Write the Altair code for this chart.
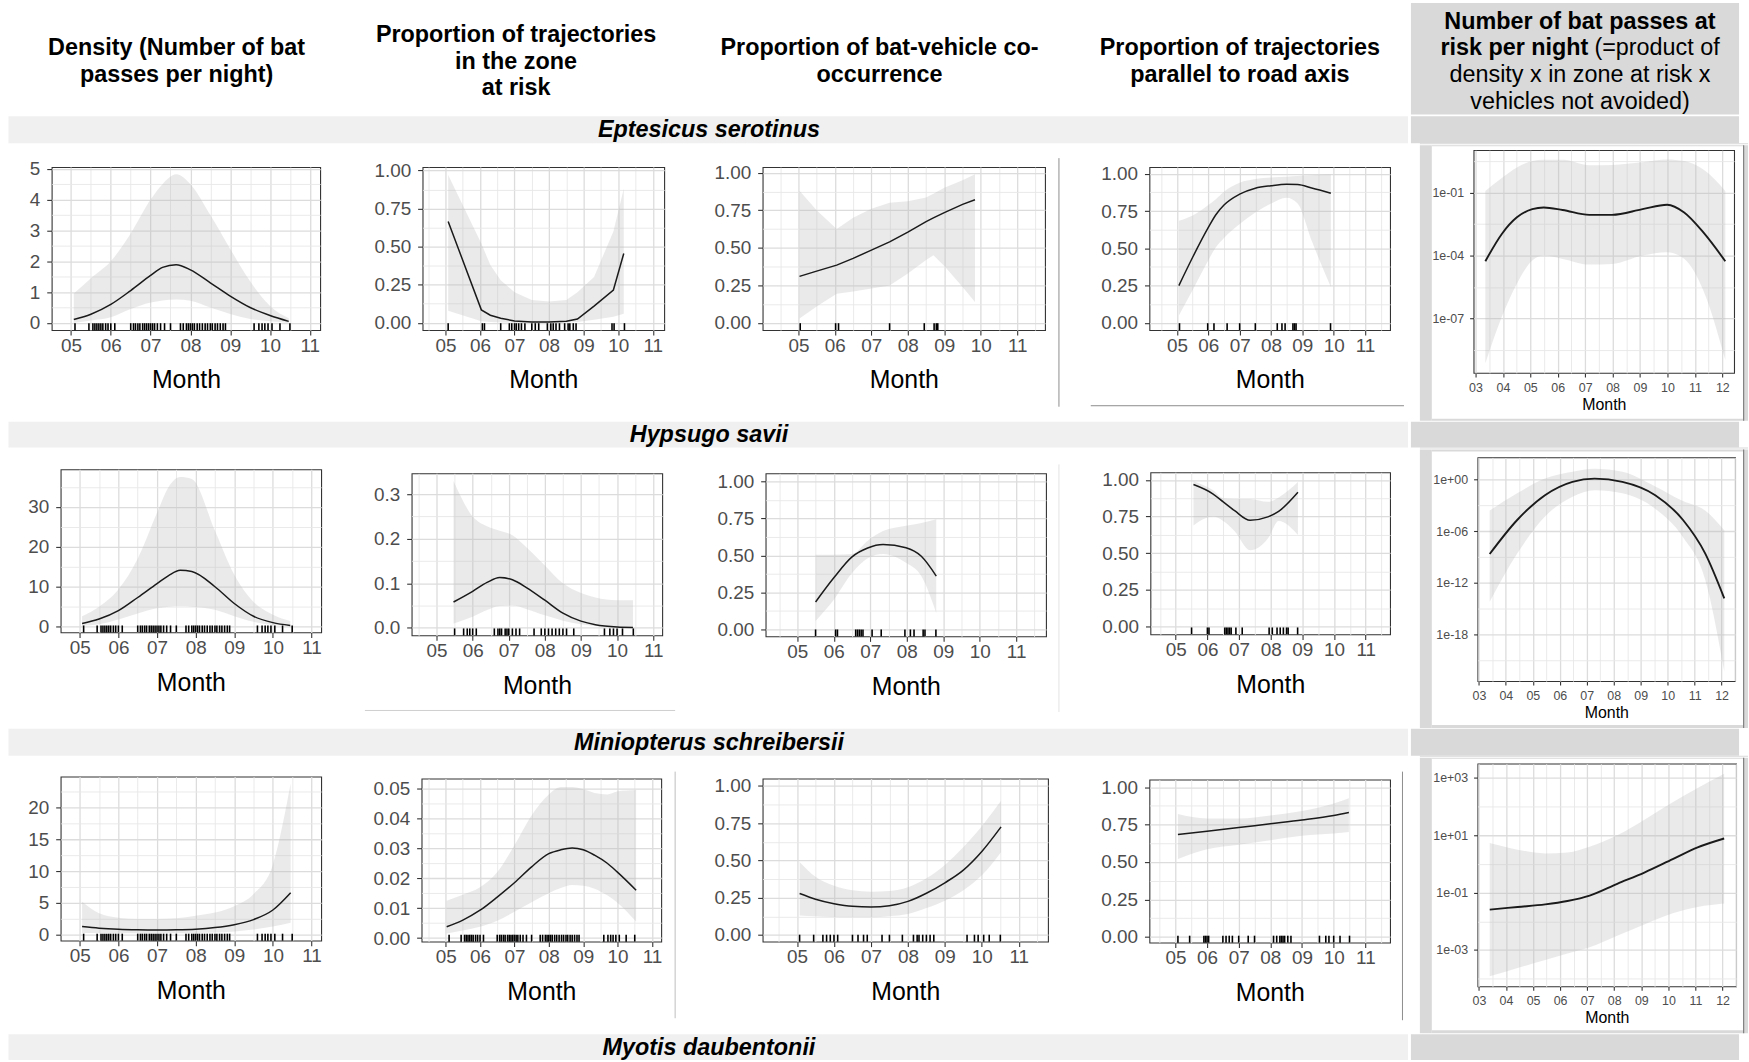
import math
import altair as alt
import pandas as pd

FONT = "Liberation Sans"

# ---------------- texts ----------------
column_titles = [
    "Density (Number of bat\npasses per night)",
    "Proportion of trajectories\nin the zone\nat risk",
    "Proportion of bat-vehicle co-\noccurrence",
    "Proportion of trajectories\nparallel to road axis",
]
risk_title_line1 = "Number of bat passes at"
risk_title_bold = "risk per night"
risk_title_rest = "(=product of"
risk_title_tail = "density x in zone at risk x\nvehicles not avoided)"
species = ["Eptesicus serotinus", "Hypsugo savii", "Miniopterus schreibersii", "Myotis daubentonii"]
x_title = "Month"

# ---------------- data: Eptesicus serotinus ----------------
ept_dens_x = [5.07, 5.5, 6.0, 6.5, 7.0, 7.3, 7.64, 8.0, 8.5, 9.0, 9.5, 10.0, 10.47]
ept_dens_fit = [0.11, 0.28, 0.60, 1.05, 1.54, 1.80, 1.89, 1.72, 1.30, 0.87, 0.50, 0.24, 0.05]
ept_dens_lo = [0.0, 0.08, 0.18, 0.45, 0.66, 0.73, 0.76, 0.72, 0.50, 0.29, 0.13, 0.05, 0.0]
ept_dens_hi = [0.95, 1.45, 2.0, 2.9, 4.0, 4.5, 4.82, 4.5, 3.5, 2.4, 1.35, 0.55, 0.15]

ept_zone_x = [5.08, 6.04, 6.3, 6.6, 7.0, 7.5, 8.0, 8.5, 8.82, 9.3, 9.86, 10.16]
ept_zone_fit = [0.665, 0.085, 0.05, 0.03, 0.012, 0.006, 0.006, 0.01, 0.025, 0.11, 0.215, 0.455]
ept_zone_lo = [0.08, 0.01, 0.005, 0.002, 0.001, 0.001, 0.001, 0.002, 0.005, 0.02, 0.04, 0.06]
ept_zone_hi = [0.97, 0.52, 0.38, 0.28, 0.2, 0.15, 0.14, 0.15, 0.2, 0.3, 0.6, 0.88]

ept_co_x = [5.03, 5.5, 6.05, 6.5, 7.0, 7.5, 8.0, 8.5, 8.7, 9.0, 9.5, 9.84]
ept_co_fit = [0.31, 0.345, 0.385, 0.43, 0.485, 0.54, 0.605, 0.675, 0.70, 0.735, 0.79, 0.82]
ept_co_lo = [0.03, 0.11, 0.195, 0.21, 0.23, 0.25, 0.33, 0.42, 0.45, 0.38, 0.24, 0.14]
ept_co_hi = [0.88, 0.75, 0.625, 0.7, 0.76, 0.8, 0.81, 0.835, 0.86, 0.9, 0.95, 0.99]

ept_par_x = [5.06, 5.5, 6.0, 6.24, 6.5, 7.0, 7.5, 8.0, 8.5, 8.85, 9.3, 9.91]
ept_par_fit = [0.25, 0.44, 0.64, 0.725, 0.79, 0.863, 0.903, 0.92, 0.93, 0.928, 0.905, 0.87]
ept_par_lo = [0.05, 0.22, 0.42, 0.507, 0.57, 0.663, 0.74, 0.8, 0.84, 0.8, 0.55, 0.24]
ept_par_hi = [0.685, 0.72, 0.79, 0.83, 0.88, 0.94, 0.965, 0.975, 0.98, 0.985, 0.99, 0.995]

ept_risk_x = [3.36, 3.96, 4.51, 5.07, 5.49, 6.18, 7.15, 7.98, 9.09, 9.99, 10.61, 11.31, 12.11]
ept_risk_log_fit = [-4.27, -2.97, -2.18, -1.79, -1.71, -1.83, -2.06, -2.06, -1.79, -1.58, -1.95, -2.9, -4.27]
ept_risk_log_lo = [-9.13, -6.92, -5.34, -4.24, -4.0, -4.16, -4.43, -4.4, -4.0, -3.84, -4.15, -5.66, -8.98]
ept_risk_log_hi = [-0.92, -0.3, 0.2, 0.5, 0.56, 0.56, 0.3, 0.32, 0.45, 0.58, 0.5, 0.1, -0.92]

# ---------------- data: Hypsugo savii ----------------
hyp_dens_x = [5.06, 5.5, 6.0, 6.5, 7.0, 7.3, 7.6, 7.9, 8.5, 9.0, 9.5, 10.0, 10.45]
hyp_dens_fit = [0.8, 1.9, 4.0, 7.3, 10.8, 12.8, 14.1, 13.8, 10.0, 5.8, 2.6, 1.0, 0.3]
hyp_dens_lo = [0.2, 0.6, 1.8, 3.3, 4.6, 5.0, 5.1, 5.0, 4.2, 2.6, 1.2, 0.4, 0.1]
hyp_dens_hi = [2.6, 5.0, 9.3, 17.0, 28.5, 35.0, 37.5, 37.0, 24.0, 13.0, 6.2, 3.0, 1.4]

hyp_zone_x = [5.47, 6.0, 6.4, 6.75, 7.1, 7.5, 8.0, 8.5, 9.0, 9.4, 10.0, 10.44]
hyp_zone_fit = [0.058, 0.082, 0.102, 0.113, 0.108, 0.09, 0.062, 0.033, 0.015, 0.007, 0.002, 0.001]
hyp_zone_lo = [0.01, 0.025, 0.04, 0.049, 0.05, 0.042, 0.028, 0.016, 0.008, 0.004, 0.001, 0.0]
hyp_zone_hi = [0.33, 0.25, 0.228, 0.218, 0.208, 0.18, 0.14, 0.1, 0.078, 0.068, 0.062, 0.062]

hyp_co_x = [5.5, 6.0, 6.5, 6.93, 7.35, 7.98, 8.4, 8.81]
hyp_co_fit = [0.184, 0.348, 0.49, 0.55, 0.573, 0.552, 0.494, 0.36]
hyp_co_lo = [0.056, 0.2, 0.38, 0.48, 0.51, 0.45, 0.36, 0.11]
hyp_co_hi = [0.505, 0.505, 0.51, 0.6, 0.665, 0.7, 0.72, 0.745]

hyp_par_x = [5.56, 6.17, 6.5, 6.86, 7.35, 7.91, 8.25, 8.86]
hyp_par_fit = [0.968, 0.905, 0.85, 0.79, 0.725, 0.748, 0.785, 0.915]
hyp_par_lo = [0.69, 0.75, 0.72, 0.65, 0.52, 0.6, 0.72, 0.625]
hyp_par_hi = [0.99, 0.93, 0.875, 0.87, 0.87, 0.85, 0.88, 0.985]

hyp_risk_x = [3.4, 4.42, 5.45, 6.47, 7.29, 8.32, 9.54, 10.57, 11.39, 12.1]
hyp_risk_log_fit = [-8.65, -4.7, -1.82, -0.27, 0.1, -0.27, -1.82, -4.7, -8.57, -13.8]
hyp_risk_log_lo = [-14.2, -8.6, -4.3, -2.0, -1.25, -1.6, -3.4, -6.7, -11.6, -22.3]
hyp_risk_log_hi = [-3.6, -1.6, 0.1, 0.9, 1.25, 0.9, -0.8, -2.5, -3.6, -5.9]

# ---------------- data: Miniopterus schreibersii ----------------
min_dens_x = [5.06, 5.5, 6.0, 6.5, 7.0, 7.5, 8.0, 8.5, 9.0, 9.5, 10.0, 10.46]
min_dens_fit = [1.3, 1.05, 0.88, 0.8, 0.77, 0.8, 0.9, 1.15, 1.6, 2.4, 3.9, 6.6]
min_dens_lo = [0.3, 0.3, 0.28, 0.26, 0.25, 0.26, 0.3, 0.38, 0.55, 0.85, 1.3, 1.9]
min_dens_hi = [5.2, 3.4, 2.7, 2.5, 2.5, 2.6, 3.0, 3.5, 4.5, 6.4, 11.0, 23.7]

min_zone_x = [5.03, 5.5, 6.0, 6.5, 7.0, 7.5, 8.0, 8.35, 8.68, 9.0, 9.33, 9.7, 9.98, 10.54]
min_zone_fit = [0.0038, 0.006, 0.0093, 0.0137, 0.0185, 0.0238, 0.0282, 0.0295, 0.0301, 0.0295, 0.0277, 0.025, 0.0222, 0.016]
min_zone_lo = [0.0015, 0.0025, 0.0038, 0.0058, 0.0088, 0.012, 0.015, 0.0167, 0.0177, 0.0175, 0.0165, 0.0143, 0.012, 0.0055]
min_zone_hi = [0.0125, 0.0145, 0.017, 0.022, 0.031, 0.041, 0.048, 0.0505, 0.0505, 0.0497, 0.0485, 0.048, 0.049, 0.0495]

min_co_x = [5.07, 5.5, 6.0, 6.5, 7.0, 7.5, 8.0, 8.5, 9.0, 9.5, 10.0, 10.52]
min_co_fit = [0.278, 0.24, 0.21, 0.192, 0.188, 0.196, 0.225, 0.28, 0.35, 0.435, 0.56, 0.725]
min_co_lo = [0.13, 0.125, 0.12, 0.118, 0.118, 0.125, 0.14, 0.18, 0.23, 0.3, 0.4, 0.555]
min_co_hi = [0.49, 0.39, 0.33, 0.3, 0.29, 0.295, 0.32, 0.38, 0.47, 0.59, 0.73, 0.9]

min_par_x = [5.08, 6.0, 7.0, 8.0, 9.0, 10.0, 10.48]
min_par_fit = [0.684, 0.705, 0.73, 0.755, 0.78, 0.81, 0.83]
min_par_lo = [0.52, 0.585, 0.615, 0.645, 0.675, 0.69, 0.7]
min_par_hi = [0.82, 0.79, 0.79, 0.81, 0.84, 0.89, 0.925]

min_risk_x = [3.4, 4.43, 5.45, 6.27, 7.09, 8.11, 9.13, 10.16, 11.08, 12.06]
min_risk_log_fit = [-1.59, -1.5, -1.41, -1.29, -1.1, -0.69, -0.29, 0.17, 0.58, 0.89]
min_risk_log_lo = [-3.92, -3.63, -3.35, -3.12, -2.9, -2.5, -2.1, -1.72, -1.5, -1.38]
min_risk_log_hi = [0.73, 0.5, 0.37, 0.4, 0.6, 1.0, 1.55, 2.15, 2.65, 3.15]

# ---------------- rug (sampled nights) ----------------
nights_all = [5.1, 5.45, 5.55, 5.6, 5.65, 5.7, 5.75, 5.8, 5.87, 5.93, 6.0, 6.1, 6.5, 6.57, 6.62,
              6.68, 6.73, 6.8, 6.85, 6.9, 6.95, 7.0, 7.05, 7.1, 7.17, 7.25, 7.35, 7.5, 7.75, 7.82,
              7.9, 7.95, 8.0, 8.05, 8.1, 8.17, 8.23, 8.3, 8.37, 8.43, 8.5, 8.55, 8.62, 8.68, 8.75,
              8.82, 8.88, 9.6, 9.72, 9.8, 9.87, 9.95, 10.05, 10.25, 10.5]
ept_zone_rug = [5.08, 6.07, 6.13, 6.6, 6.85, 6.92, 7.0, 7.05, 7.12, 7.2, 7.3, 7.5, 7.6, 7.7, 7.95,
                8.05, 8.12, 8.2, 8.3, 8.45, 8.55, 8.6, 8.7, 8.78, 9.82, 9.88, 10.18]
ept_co_rug = [5.05, 6.02, 6.1, 7.5, 8.45, 8.72, 8.78, 8.82]
ept_par_rug = [5.08, 5.98, 6.18, 6.6, 7.0, 7.5, 8.2, 8.35, 8.45, 8.7, 8.75, 8.8, 9.9]
hyp_zone_rug = [5.5, 5.75, 5.85, 5.92, 6.0, 6.1, 6.6, 6.7, 6.75, 6.8, 6.9, 6.95, 7.0, 7.1, 7.2, 7.3,
                7.7, 7.9, 8.0, 8.1, 8.2, 8.3, 8.4, 8.5, 8.6, 8.8, 9.65, 9.8, 9.9, 10.0, 10.15, 10.45]
hyp_co_rug = [5.5, 6.05, 6.1, 6.6, 6.65, 6.7, 6.75, 6.8, 7.05, 7.3, 7.95, 8.1, 8.2, 8.45, 8.5, 8.8]
hyp_par_rug = [5.5, 6.0, 6.05, 6.55, 6.6, 6.65, 6.7, 6.75, 6.9, 7.1, 7.95, 8.05, 8.2, 8.3, 8.4, 8.5,
               8.55, 8.85]
min_co_rug = [5.07, 5.45, 5.7, 5.8, 5.9, 6.0, 6.1, 6.5, 6.65, 6.8, 6.9, 7.3, 7.5, 7.85, 8.15, 8.25,
              8.3, 8.4, 8.5, 8.6, 8.7, 9.6, 9.8, 9.9, 10.05, 10.2, 10.5]
min_par_rug = [5.08, 5.45, 5.9, 5.95, 6.0, 6.05, 6.5, 6.6, 6.7, 6.8, 7.0, 7.3, 7.5, 8.1, 8.2, 8.3,
               8.35, 8.4, 8.45, 8.55, 8.65, 9.55, 9.75, 9.85, 10.0, 10.2, 10.5]

# ---------------- style ----------------
BAND_FILL = "#b8b8b8"
BAND_OP = 0.3
LINE = "#1a1a1a"
GRID_MAJ = "#dcdcdc"
GRID_MIN = "#e8e8e8"
FRAME = "#333333"
LABEL = "#4d4d4d"
GRAY_COL = "#d9d9d9"
LIGHT_BAND = "#f0f0f0"
TOPK = 12  # room kept above a plot frame for its top tick label


def one_row():
    return pd.DataFrame({"k": [0]})


def deco_rect(x1, x2, y1, y2, color, opacity=1.0):
    return alt.Chart(one_row()).mark_rect(color=color, opacity=opacity).encode(
        x=alt.value(x1), x2=alt.value(x2), y=alt.value(y1), y2=alt.value(y2))


def deco_rule(x1, x2, y1, y2, color, width=1.0):
    if x1 == x2:
        enc = dict(x=alt.value(x1), y=alt.value(y1), y2=alt.value(y2))
    else:
        enc = dict(x=alt.value(x1), x2=alt.value(x2), y=alt.value(y1))
    return alt.Chart(one_row()).mark_rule(color=color, strokeWidth=width).encode(**enc)


def text_layer(text, x, y, size, weight="bold", style="normal", align="center", lh=27):
    return alt.Chart(pd.DataFrame({"t": [text]})).mark_text(
        font=FONT, fontSize=size, fontWeight=weight, fontStyle=style, align=align,
        baseline="middle", lineBreak="\n", lineHeight=lh, color="#000000"
    ).encode(x=alt.value(x), y=alt.value(y), text="t:N")


def spacer(w, h, x1=0, x2=None, color="#ffffff", opacity=0.0):
    if x2 is None:
        x2 = w
    return alt.layer(deco_rect(x1, x2, 0, h, color, opacity)).properties(
        width=w, height=h, view=alt.ViewBackground(strokeWidth=0))


def grid_vals(start, step, lo, hi):
    vals = []
    k = math.ceil((lo - start) / step - 1e-9)
    while True:
        v = start + k * step
        if v > hi + 1e-9:
            break
        vals.append(round(v, 10))
        k += 1
    return vals


def major_test(v, start, step):
    return f"abs(({v} - ({start}))/{step} - round(({v} - ({start}))/{step})) < 0.01"


def panel(xs, fit, lo, hi, rug, xdom, ydom, frame, cell, row, ystart, ystep, yfmt,
          small=False, interp="monotone", extras=(), box=None):
    fl, ft, fw, fh = frame
    cl, cr = cell
    rt, rb = row
    log = small
    if log:
        conv = lambda v: [10.0 ** u for u in v]
    else:
        conv = lambda v: list(v)
    df = pd.DataFrame({"m": xs, "fit": conv(fit), "lo": conv(lo), "hi": conv(hi)})

    if small:
        lab_fs, tit_fs, xtick, xpad, tpad, ytick, ypad, lw = 12.5, 16, 4, 4.5, 2.8, 4, 6, 1.9
        k_top = ft - rt - 1
    else:
        lab_fs, tit_fs, xtick, xpad, tpad, ytick, ypad, lw = 19, 25, 5, 1, 13, 5, 7, 1.5
        k_top = TOPK

    x_all = grid_vals(3, 0.5, xdom[0], xdom[1])
    xt = "abs(datum.value - round(datum.value)) < 0.01"
    xlab = f"{xt} ? ((datum.value < 9.5 ? '0' : '') + round(datum.value)) : ''"
    xaxis = alt.Axis(
        values=x_all, title=x_title, labelExpr=xlab, grid=True, domain=False,
        gridColor={"condition": {"test": xt, "value": GRID_MAJ}, "value": GRID_MIN},
        gridWidth={"condition": {"test": xt, "value": 1.3}, "value": 0.9},
        tickColor={"condition": {"test": xt, "value": FRAME}, "value": "transparent"},
        tickSize=xtick, tickWidth=1.1, labelFont=FONT, labelFontSize=lab_fs,
        labelColor=LABEL, labelPadding=xpad, labelOverlap=False, labelFlush=False,
        titleFont=FONT, titleFontSize=tit_fs, titleFontWeight="normal",
        titleColor="#000000", titlePadding=tpad)
    xscale = alt.Scale(domain=list(xdom), nice=False, zero=False)

    y_all = grid_vals(ystart, ystep / 2.0, ydom[0], ydom[1])
    if log:
        v = "log(datum.value)/LN10"
        yt = major_test(v, ystart, ystep)
        e = f"round({v})"
        ylab = f"{yt} ? (({e} >= 0 ? '1e+' : '1e-') + (abs({e}) < 10 ? '0' : '') + abs({e})) : ''"
        yvals = [10.0 ** u for u in y_all]
        yscale = alt.Scale(type="log", domain=[10.0 ** ydom[0], 10.0 ** ydom[1]], nice=False)
    else:
        yt = major_test("datum.value", ystart, ystep)
        ylab = f"{yt} ? format(datum.value, '{yfmt}') : ''"
        yvals = y_all
        yscale = alt.Scale(domain=list(ydom), nice=False, zero=False)
    yaxis = alt.Axis(
        values=yvals, title=None, labelExpr=ylab, grid=True, domain=False,
        gridColor={"condition": {"test": yt, "value": GRID_MAJ}, "value": GRID_MIN},
        gridWidth={"condition": {"test": yt, "value": 1.3}, "value": 0.9},
        tickColor={"condition": {"test": yt, "value": FRAME}, "value": "transparent"},
        tickSize=ytick, tickWidth=1.1, labelFont=FONT, labelFontSize=lab_fs,
        labelColor=LABEL, labelPadding=ypad, labelOverlap=False, labelFlush=False)

    top = -k_top
    bottom = rb - ft
    layers = [deco_rect(cl - fl, cr - fl, top, bottom, "#ffffff", 0)]
    if box is not None:
        bx1, bx2, by1, by2 = box
        layers += [
            deco_rect(cl - fl, bx1 - fl, top, bottom, GRAY_COL),
            deco_rect(bx2 - fl, cr - fl, top, bottom, GRAY_COL),
            deco_rect(bx1 - fl, bx2 - fl, top, by1 - ft, GRAY_COL),
            deco_rect(bx1 - fl, bx2 - fl, by2 - ft, bottom, GRAY_COL),
            deco_rect(bx2 - fl, bx2 + 1.2 - fl, top, bottom, "#808080"),
        ]
    area = alt.Chart(df).mark_area(color=BAND_FILL, opacity=BAND_OP, interpolate=interp).encode(
        x=alt.X("m:Q", scale=xscale, axis=xaxis),
        y=alt.Y("lo:Q", scale=yscale, axis=yaxis),
        y2=alt.Y2("hi:Q"))
    line = alt.Chart(df).mark_line(color=LINE, strokeWidth=lw, interpolate=interp).encode(
        x=alt.X("m:Q", scale=xscale, axis=xaxis),
        y=alt.Y("fit:Q", scale=yscale, axis=yaxis))
    layers += [area, line]
    if rug:
        rug_layer = alt.Chart(pd.DataFrame({"r": rug})).mark_rule(
            color="#000000", strokeWidth=1.6).encode(
            x=alt.X("r:Q", scale=xscale, axis=xaxis), y=alt.value(fh - 7), y2=alt.value(fh))
        layers.append(rug_layer)
    for (x1, x2, y1, y2, col) in extras:
        layers.append(deco_rule(x1 - fl, x2 - fl, y1 - ft, y2 - ft, col, 1.0))
    plot = alt.layer(*layers).properties(
        width=fw, height=fh,
        view=alt.ViewBackground(stroke=FRAME, strokeWidth=1.1, fill="#ffffff"))
    h0 = ft - rt - k_top
    if box is not None:
        top_strip = spacer(1, h0, cl - fl, cr - fl, GRAY_COL, 1.0)
    else:
        top_strip = spacer(1, h0, cl - fl, cr - fl)
    return alt.vconcat(top_strip, plot, spacing=0)


CELLS = [(1, 340), (340, 690), (690, 1075), (1075, 1419), (1419, 1749)]
# row extents (one pixel trimmed at the bottom to absorb layout rounding)
ROW1, ROW2, ROW3 = (143, 421), (448, 729), (757, 1035)

row1 = alt.hconcat(
    spacer(1, 1),
    panel(ept_dens_x, ept_dens_fit, ept_dens_lo, ept_dens_hi, nights_all,
          (4.515, 11.26), (-0.235, 5.055), (51, 166, 270, 164), CELLS[0], ROW1, 0, 1, "d"),
    panel(ept_zone_x, ept_zone_fit, ept_zone_lo, ept_zone_hi, ept_zone_rug,
          (4.34, 11.33), (-0.048, 1.022), (422, 166, 243, 164), CELLS[1], ROW1, 0, 0.25, ".2f",
          interp="linear"),
    panel(ept_co_x, ept_co_fit, ept_co_lo, ept_co_hi, ept_co_rug,
          (4.02, 11.76), (-0.048, 1.038), (762, 166, 284, 164), CELLS[2], ROW1, 0, 0.25, ".2f",
          interp="linear", extras=[(1060, 1060, 157, 407, "#8c8c8c")]),
    panel(ept_par_x, ept_par_fit, ept_par_lo, ept_par_hi, ept_par_rug,
          (4.12, 11.8), (-0.049, 1.045), (1149, 166, 242, 164), CELLS[3], ROW1, 0, 0.25, ".2f",
          extras=[(1090, 1405, 406, 406, "#8c8c8c")]),
    panel(ept_risk_x, ept_risk_log_fit, ept_risk_log_lo, ept_risk_log_hi, None,
          (2.93, 12.43), (-9.59, 1.02), (1473, 149, 262, 224), CELLS[4], ROW1, -1, 3, "",
          small=True, box=(1431, 1744, 145, 419)),
    spacing=0)

row2 = alt.hconcat(
    spacer(1, 1),
    panel(hyp_dens_x, hyp_dens_fit, hyp_dens_lo, hyp_dens_hi, nights_all,
          (4.505, 11.25), (-1.45, 39.4), (60, 469, 262, 164), CELLS[0], ROW2, 0, 10, "d"),
    panel(hyp_zone_x, hyp_zone_fit, hyp_zone_lo, hyp_zone_hi, hyp_zone_rug,
          (4.31, 11.25), (-0.017, 0.347), (411, 473, 252, 163), CELLS[1], ROW2, 0, 0.1, ".1f",
          extras=[(364, 676, 711.5, 711.5, "#cfcfcf")]),
    panel(hyp_co_x, hyp_co_fit, hyp_co_lo, hyp_co_hi, hyp_co_rug,
          (4.13, 11.82), (-0.049, 1.056), (765, 473, 282, 164), CELLS[2], ROW2, 0, 0.25, ".2f",
          extras=[(1060, 1060, 464, 713, "#e3e3e3")]),
    panel(hyp_par_x, hyp_par_fit, hyp_par_lo, hyp_par_hi, hyp_par_rug,
          (4.2, 11.77), (-0.052, 1.051), (1150, 472, 241, 163), CELLS[3], ROW2, 0, 0.25, ".2f"),
    panel(hyp_risk_x, hyp_risk_log_fit, hyp_risk_log_lo, hyp_risk_log_hi, None,
          (2.95, 12.5), (-23.4, 2.56), (1477, 457, 259, 225), CELLS[4], ROW2, 0, 6, "",
          small=True, box=(1431, 1744, 451, 726)),
    spacing=0)

row3 = alt.hconcat(
    spacer(1, 1),
    panel(min_dens_x, min_dens_fit, min_dens_lo, min_dens_hi, nights_all,
          (4.505, 11.25), (-0.9, 24.8), (60, 777, 262, 165), CELLS[0], ROW3, 0, 5, "d"),
    panel(min_zone_x, min_zone_fit, min_zone_lo, min_zone_hi, nights_all,
          (4.3, 11.27), (-0.0012, 0.0533), (421, 779, 241, 164), CELLS[1], ROW3, 0, 0.01, ".2f",
          extras=[(676, 676, 772, 1020, "#bdbdbd")]),
    panel(min_co_x, min_co_fit, min_co_lo, min_co_hi, min_co_rug,
          (4.07, 11.79), (-0.045, 1.049), (762, 779, 287, 164), CELLS[2], ROW3, 0, 0.25, ".2f"),
    panel(min_par_x, min_par_fit, min_par_lo, min_par_hi, min_par_rug,
          (4.18, 11.78), (-0.038, 1.05), (1149, 780, 242, 164), CELLS[3], ROW3, 0, 0.25, ".2f",
          extras=[(1403.5, 1403.5, 772, 1022, "#8c8c8c")]),
    panel(min_risk_x, min_risk_log_fit, min_risk_log_lo, min_risk_log_hi, None,
          (2.95, 12.5), (-4.27, 3.5), (1477, 764, 260, 224), CELLS[4], ROW3, 1, 2, "",
          small=True, box=(1431, 1744, 759, 1032)),
    spacing=0)

HF = 23.5
header = alt.layer(
    deco_rect(1419, 1749, 0, 112, GRAY_COL),
    text_layer(column_titles[0], 177.6, 45.7, HF),
    text_layer(column_titles[1], 519, 32, HF),
    text_layer(column_titles[2], 884.5, 45.7, HF),
    text_layer(column_titles[3], 1247, 45.7, HF),
    text_layer(risk_title_line1, 1589, 19, HF),
    text_layer(risk_title_bold, 1597.5, 45.7, HF, align="right"),
    text_layer(risk_title_rest, 1603.5, 45.7, HF, weight="normal", align="left"),
    text_layer(risk_title_tail, 1589, 72.7, HF, weight="normal", lh=26.7),
).properties(width=1749, height=114, view=alt.ViewBackground(strokeWidth=0))


def band_chart(name, h):
    return alt.layer(
        deco_rect(8.5, 1416, 0, h, LIGHT_BAND),
        deco_rect(1419, 1749, 0, h, GRAY_COL),
        text_layer(name, 713, h / 2.0 + 0.5, HF, weight="bold", style="italic"),
    ).properties(width=1749, height=h, view=alt.ViewBackground(strokeWidth=0))


chart = alt.vconcat(
    header,
    band_chart(species[0], 27),
    row1,
    band_chart(species[1], 26),
    row2,
    band_chart(species[2], 27),
    row3,
    band_chart(species[3], 26),
    spacing=0,
).properties(padding=0, background="#ffffff").configure_view(strokeWidth=0)

chart.save("out.html", embed_options={"renderer": "svg", "actions": False})
